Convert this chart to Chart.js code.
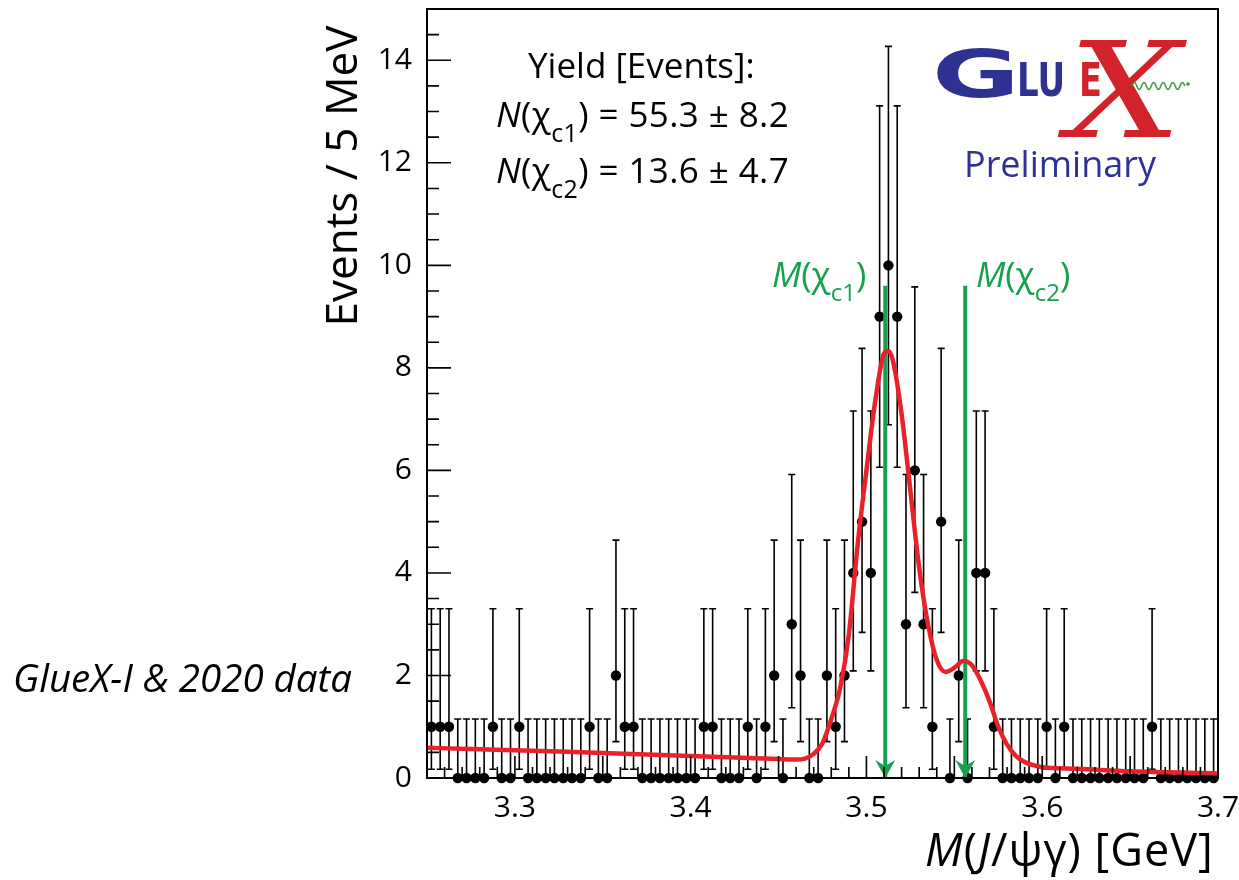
<!DOCTYPE html>
<html>
<head>
<meta charset="utf-8">
<script src="https://cdn.jsdelivr.net/npm/chart.js@4.4.1/dist/chart.umd.min.js"></script>
<style>
html,body{margin:0;padding:0;background:#fff;}
#wrap{position:relative;width:1239px;height:880px;overflow:hidden;font-family:"Open Sans",sans-serif;}
#c{position:absolute;left:0;top:0;}
.t{position:absolute;white-space:nowrap;line-height:1;color:#000;}
.sub{position:relative;}
.green{color:#17a14f;}
.navy{color:#2e3192;}
.red{color:#d2232a;}
</style>
</head>
<body>
<div id="wrap">
<canvas id="c" width="1239" height="880"></canvas>

<div class="t" style="left:140px;top:154px;width:400px;text-align:center;font-size:44px;transform:rotate(-90deg);">Events / 5 MeV</div>
<div class="t" style="left:925px;top:826px;font-size:45px;letter-spacing:1px;"><i>M</i>(<i>J</i>/ψγ) [GeV]</div>
<div class="t" style="left:13px;top:658px;font-size:38.5px;"><i>GlueX-I &amp; 2020 data</i></div>

<div class="t" style="left:528px;top:47px;font-size:35px;">Yield [Events]:</div>
<div class="t" style="left:496px;top:96px;font-size:35px;letter-spacing:0.4px;"><i>N</i>(χ<span class="sub" style="font-size:25px;top:15px;">c1</span>) = 55.3 ± 8.2</div>
<div class="t" style="left:496px;top:152px;font-size:35px;letter-spacing:0.4px;"><i>N</i>(χ<span class="sub" style="font-size:25px;top:15px;">c2</span>) = 13.6 ± 4.7</div>

<div class="t green" style="left:772px;top:256px;font-size:35px;"><i>M</i>(χ<span class="sub" style="font-size:24px;top:14px;">c1</span>)</div>
<div class="t green" style="left:976px;top:256px;font-size:35px;"><i>M</i>(χ<span class="sub" style="font-size:24px;top:14px;">c2</span>)</div>

<div class="t navy" style="left:932px;top:42px;font-size:66px;font-family:'DejaVu Sans';font-weight:bold;transform:scaleX(1.62);transform-origin:left top;">G</div>
<div class="t red" style="left:1068px;top:25px;font-size:133px;font-family:'DejaVu Serif';font-weight:normal;font-style:italic;transform:scaleX(1.2);transform-origin:left top;">X</div>
<div class="t navy" style="left:1017px;top:57px;font-size:46px;font-family:'DejaVu Sans';font-weight:bold;transform:scaleX(0.74);transform-origin:left top;">LU</div>
<div class="t red" style="left:1079px;top:57px;font-size:46px;font-family:'DejaVu Sans';font-weight:bold;transform:scaleX(0.73);transform-origin:left top;z-index:2;">E</div>
<svg style="position:absolute;left:1130px;top:78px;" width="62" height="16">
  <path d="M2 8 q2.4 -7 4.8 0 t4.8 0 t4.8 0 t4.8 0 t4.8 0 t4.8 0 t4.8 0 t4.8 0 t4.8 0 t4.8 0 t4.8 0" fill="none" stroke="#3c9c45" stroke-width="1.5"/>
  <circle cx="58" cy="6" r="1.8" fill="#3c9c45"/>
</svg>
<div class="t navy" style="left:964px;top:146px;font-size:36px;">Preliminary</div>
</div>

<script>
// ---- data ----
const massCenters = [
3.2525,3.2575,3.2625,3.2675,3.2725,3.2775,3.2825,3.2875,3.2925,3.2975,
3.3025,3.3075,3.3125,3.3175,3.3225,3.3275,3.3325,3.3375,3.3425,3.3475,
3.3525,3.3575,3.3625,3.3675,3.3725,3.3775,3.3825,3.3875,3.3925,3.3975,
3.4025,3.4075,3.4125,3.4175,3.4225,3.4275,3.4325,3.4375,3.4425,3.4475,
3.4525,3.4575,3.4625,3.4675,3.4725,3.4775,3.4825,3.4875,3.4925,3.4975,
3.5025,3.5075,3.5125,3.5175,3.5225,3.5275,3.5325,3.5375,3.5425,3.5475,
3.5525,3.5575,3.5625,3.5675,3.5725,3.5775,3.5825,3.5875,3.5925,3.5975,
3.6025,3.6075,3.6125,3.6175,3.6225,3.6275,3.6325,3.6375,3.6425,3.6475,
3.6525,3.6575,3.6625,3.6675,3.6725,3.6775,3.6825,3.6875,3.6925,3.6975];
const counts = [
1,1,1,0,0,0,0,1,0,0,
1,0,0,0,0,0,0,0,1,0,
0,2,1,1,0,0,0,0,0,0,
0,1,1,0,0,0,1,0,1,2,
0,3,2,0,0,2,1,2,4,5,
4,9,10,9,3,6,3,1,5,0,
2,0,4,4,1,0,0,0,0,0,
1,0,1,0,0,0,0,0,0,0,
0,0,1,0,0,0,0,0,0,0];
// error-bar ends indexed by the bin count
const errLowByCount  = [0, 0.17, 0.71, 1.37, 2.09, 2.84, 3.62, 4.42, 5.23, 6.06, 6.89];
const errHighByCount = [1.15, 3.30, 4.64, 5.92, 7.16, 8.38, 9.58, 10.77, 11.95, 13.11, 14.27];
// fit curve
const fitMass = [3.250,3.275,3.300,3.325,3.350,3.375,3.400,3.425,3.450,3.460,3.465,3.470,3.475,3.480,3.485,3.490,3.495,3.500,3.505,3.510,3.5125,3.515,3.520,3.525,3.530,3.535,3.540,3.545,3.550,3.555,3.560,3.565,3.570,3.575,3.580,3.585,3.590,3.595,3.600,3.620,3.650,3.700];
const fitValue = [0.59,0.565,0.54,0.515,0.49,0.46,0.43,0.40,0.37,0.36,0.38,0.47,0.68,1.15,1.75,2.8,4.55,6.0,7.35,8.28,8.33,8.15,7.1,5.6,4.1,3.0,2.3,2.07,2.15,2.28,2.2,1.9,1.5,1.0,0.65,0.43,0.31,0.25,0.21,0.18,0.13,0.09];
// reference masses marked by arrows
const arrowMasses = [3.5107, 3.5562];
const arrowTop = 9.6;
// axis ticks
const xTickValues = [3.3, 3.4, 3.5, 3.6, 3.7];
const yTickValues = [0, 2, 4, 6, 8, 10, 12, 14];

const FONT = "'Open Sans', sans-serif";
const GREEN = '#17a14f';

const errBars = {
  id: 'errBars',
  beforeDatasetsDraw(chart) {
    const {ctx, scales: {x, y}} = chart;
    ctx.save();
    ctx.strokeStyle = '#000';
    ctx.lineWidth = 1.6;
    massCenters.forEach((m, i) => {
      const n = counts[i];
      const px = x.getPixelForValue(m);
      const yTop = y.getPixelForValue(errHighByCount[n]);
      const yBot = y.getPixelForValue(errLowByCount[n]);
      ctx.beginPath();
      ctx.moveTo(px, yBot); ctx.lineTo(px, yTop);
      ctx.moveTo(px - 3.5, yTop); ctx.lineTo(px + 3.5, yTop);
      if (errLowByCount[n] > 0) { ctx.moveTo(px - 3.5, yBot); ctx.lineTo(px + 3.5, yBot); }
      ctx.stroke();
    });
    ctx.restore();
  }
};

const arrowHeads = {
  id: 'arrowHeads',
  afterDatasetsDraw(chart) {
    const {ctx, scales: {x, y}} = chart;
    ctx.save();
    ctx.fillStyle = GREEN;
    arrowMasses.forEach(m => {
      const px = x.getPixelForValue(m);
      const py = y.getPixelForValue(0);
      ctx.beginPath();
      ctx.moveTo(px, py);
      ctx.lineTo(px - 10, py - 18);
      ctx.lineTo(px, py - 12);
      ctx.lineTo(px + 10, py - 18);
      ctx.closePath();
      ctx.fill();
    });
    ctx.restore();
  }
};

const frameTicks = {
  id: 'frameTicks',
  afterDraw(chart) {
    const {ctx, chartArea: a, scales: {x, y}} = chart;
    ctx.save();
    ctx.strokeStyle = '#000';
    ctx.lineWidth = 2;
    ctx.strokeRect(a.left, a.top, a.right - a.left, a.bottom - a.top);
    ctx.lineWidth = 1.6;
    ctx.beginPath();
    for (let k = 0; k <= 30; k++) {
      const v = k * 0.5;
      const py = y.getPixelForValue(v);
      const len = (k % 4 === 0) ? 24 : 12;
      ctx.moveTo(a.left, py); ctx.lineTo(a.left + len, py);
    }
    for (let k = 0; k <= 45; k++) {
      const v = 3.25 + k * 0.01;
      const px = x.getPixelForValue(v);
      const len = (k % 5 === 0) ? 22 : 11;
      ctx.moveTo(px, a.bottom); ctx.lineTo(px, a.bottom - len);
    }
    ctx.stroke();
    ctx.restore();
  }
};

const datasets = [
  {
    label: 'fit', type: 'line',
    data: fitMass.map((m, i) => ({x: m, y: fitValue[i]})),
    borderColor: '#e8222a', borderWidth: 4.5, pointRadius: 0,
    cubicInterpolationMode: 'monotone', fill: false, order: 0
  },
  ...arrowMasses.map(m => ({
    label: 'arrow', type: 'line',
    data: [{x: m, y: 0}, {x: m, y: arrowTop}],
    borderColor: GREEN, borderWidth: 4, pointRadius: 0, fill: false, order: 1
  })),
  {
    label: 'data', type: 'line', showLine: false, clip: false,
    data: massCenters.map((m, i) => ({x: m, y: counts[i]})),
    pointRadius: 5.2, pointBackgroundColor: '#000', pointBorderWidth: 0,
    borderColor: '#000', order: 2
  }
];

new Chart(document.getElementById('c'), {
  type: 'line',
  data: {datasets},
  options: {
    responsive: false,
    animation: false,
    events: [],
    layout: {padding: {left: 0, right: 21, top: 9, bottom: 0}},
    plugins: {legend: {display: false}, tooltip: {enabled: false}},
    scales: {
      x: {
        type: 'linear', min: 3.25, max: 3.7,
        afterBuildTicks: s => { s.ticks = xTickValues.map(v => ({value: v})); },
        afterFit: s => { s.height = 102; s.paddingLeft = 0; s.paddingRight = 0; },
        grid: {display: false, drawTicks: false},
        border: {display: false},
        ticks: {
          color: '#000', font: {family: FONT, size: 30}, padding: 12,
          maxRotation: 0, autoSkip: false,
          callback: v => Number(v).toFixed(1)
        }
      },
      y: {
        type: 'linear', min: 0, max: 15,
        afterBuildTicks: s => { s.ticks = yTickValues.map(v => ({value: v})); },
        afterFit: s => { s.width = 427; s.paddingTop = 0; s.paddingBottom = 0; },
        grid: {display: false, drawTicks: false},
        border: {display: false},
        ticks: {
          color: '#000', font: {family: FONT, size: 30}, padding: 15,
          autoSkip: false, callback: v => String(v)
        }
      }
    }
  },
  plugins: [errBars, arrowHeads, frameTicks]
});
</script>
</body>
</html>
